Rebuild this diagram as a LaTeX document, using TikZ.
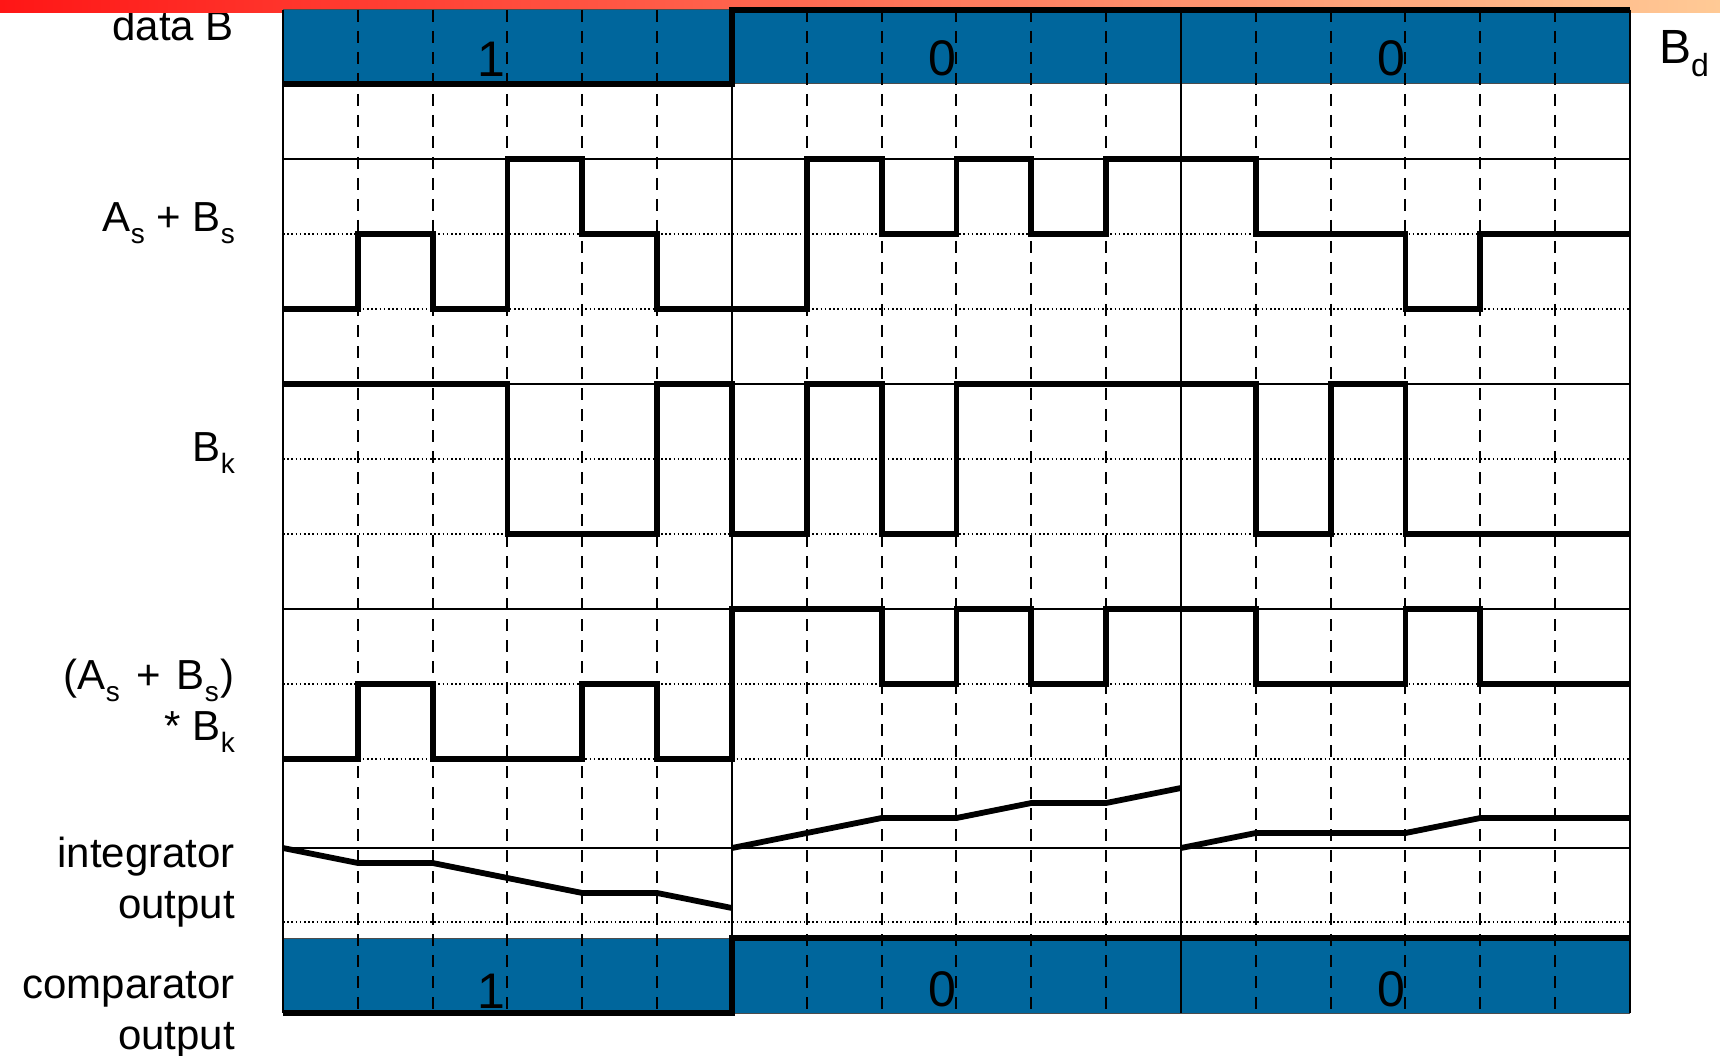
\documentclass[tikz,border=0pt]{standalone}
\usepackage{fontspec}
\setmainfont{Liberation Sans}
\definecolor{barblue}{RGB}{0,102,156}
\definecolor{hdrred}{RGB}{255,22,22}
\definecolor{hdrpeach}{RGB}{255,202,150}
\newcommand{\lowsub}[1]{\raisebox{-12pt}{\fontsize{28}{28}\selectfont #1}}
\newcommand{\bigsub}[1]{\raisebox{-13pt}{\fontsize{32}{32}\selectfont #1}}
\begin{document}
\begin{tikzpicture}[x=1pt,y=-1pt,
  wave/.style={line width=5.8pt, line join=miter, line cap=butt},
  bitline/.style={line width=6pt, line join=miter},
  gridline/.style={line width=2pt},
  dashline/.style={line width=2pt, dash pattern=on 12pt off 9pt},
  dotline/.style={line width=1.6pt, dash pattern=on 1.6pt off 2.6pt},
  lbl/.style={anchor=base east, inner sep=0pt, font=\fontsize{42}{51}\selectfont},
  digit/.style={anchor=base east, inner sep=0pt, font=\fontsize{50}{50}\selectfont}]
\useasboundingbox (0,0) rectangle (1720,1056);
\fill[white] (0,0) rectangle (1720,1056);

% labels
\node[lbl] (lData) at (234,41) {data B};
\node[lbl] (lSum) at (235,232) {A\lowsub{s} + B\lowsub{s}};
\node[lbl] (lBk) at (235,461) {B\lowsub{k}};
\node[lbl] (lProdA) at (235,689) {(A\lowsub{s}\hspace{5pt} +\hspace{4pt} B\lowsub{s}\hspace{2pt})};
\node[lbl] (lProdB) at (235,740) {* B\lowsub{k}};
\node[lbl] (lIntA) at (235,867) {integrator};
\node[lbl] (lIntB) at (235,918) {output};
\node[lbl] (lCmpA) at (235,998) {comparator};
\node[lbl] (lCmpB) at (235,1049) {output};
\node[lbl, anchor=base west, font=\fontsize{48}{48}\selectfont] (lBd) at (1659,64) {B\bigsub{d}};

% header gradient
\shade[left color=hdrred, right color=hdrpeach] (0,0) rectangle (1720,13);

\begin{scope}[shift={(283,0)}, x=74.83pt]
  % bars
  \fill[barblue] (0,10) rectangle (18,84);
  \fill[barblue] (0,938) rectangle (18,1013);
  \draw[line width=1pt, black!70] (0,10) rectangle (18,84);
  \draw[line width=1pt, black!70] (0,938) rectangle (18,1013);
  % dotted levels
  \foreach \yy in {234,309,459,534,684,759,922}
    \draw[dotline] (0,\yy) -- (18,\yy);
  % dashed verticals
  \foreach \xx in {1,2,3,4,5,7,8,9,10,11,13,14,15,16,17}
    \draw[dashline] (\xx,10) -- (\xx,1013);
  % solid grid
  \foreach \yy in {159,384,609,848}
    \draw[gridline] (0,\yy) -- (18,\yy);
  \foreach \xx in {0,6,12,18}
    \draw[gridline] (\xx,10) -- (\xx,1013);
  % As + Bs
  \draw[wave] (0,309) -- (1,309) -- (1,234) -- (2,234) -- (2,309) -- (3,309) -- (3,159) -- (4,159) -- (4,234) -- (5,234) -- (5,309) -- (7,309) -- (7,159) -- (8,159) -- (8,234) -- (9,234) -- (9,159) -- (10,159) -- (10,234) -- (11,234) -- (11,159) -- (13,159) -- (13,234) -- (15,234) -- (15,309) -- (16,309) -- (16,234) -- (18,234);
  % Bk
  \draw[wave] (0,384) -- (3,384) -- (3,534) -- (5,534) -- (5,384) -- (6,384) -- (6,534) -- (7,534) -- (7,384) -- (8,384) -- (8,534) -- (9,534) -- (9,384) -- (13,384) -- (13,534) -- (14,534) -- (14,384) -- (15,384) -- (15,534) -- (18,534);
  % product
  \draw[wave] (0,759) -- (1,759) -- (1,684) -- (2,684) -- (2,759) -- (4,759) -- (4,684) -- (5,684) -- (5,759) -- (6,759) -- (6,609) -- (8,609) -- (8,684) -- (9,684) -- (9,609) -- (10,609) -- (10,684) -- (11,684) -- (11,609) -- (13,609) -- (13,684) -- (15,684) -- (15,609) -- (16,609) -- (16,684) -- (18,684);
  % integrator
  \draw[wave] (0,848) -- (1,863) -- (2,863) -- (4,893) -- (5,893) -- (6,908);
  \draw[wave] (6,848) -- (8,818) -- (9,818) -- (10,803) -- (11,803) -- (12,788);
  \draw[wave] (12,848) -- (13,833) -- (15,833) -- (16,818) -- (18,818);
  % bit lines on bars
  \draw[bitline] (0,84) -- (6,84) -- (6,10) -- (18,10);
  \draw[bitline] (0,1013) -- (6,1013) -- (6,938) -- (18,938);
  % digits
  \node[digit] (dB1) at (2.98,77) {1};
  \node[digit] (dB2) at (9.0,76) {0};
  \node[digit] (dB3) at (15.0,76) {0};
  \node[digit] (dC1) at (2.98,1008) {1};
  \node[digit] (dC2) at (9.0,1006) {0};
  \node[digit] (dC3) at (15.0,1006) {0};
\end{scope}
\end{tikzpicture}
\end{document}
